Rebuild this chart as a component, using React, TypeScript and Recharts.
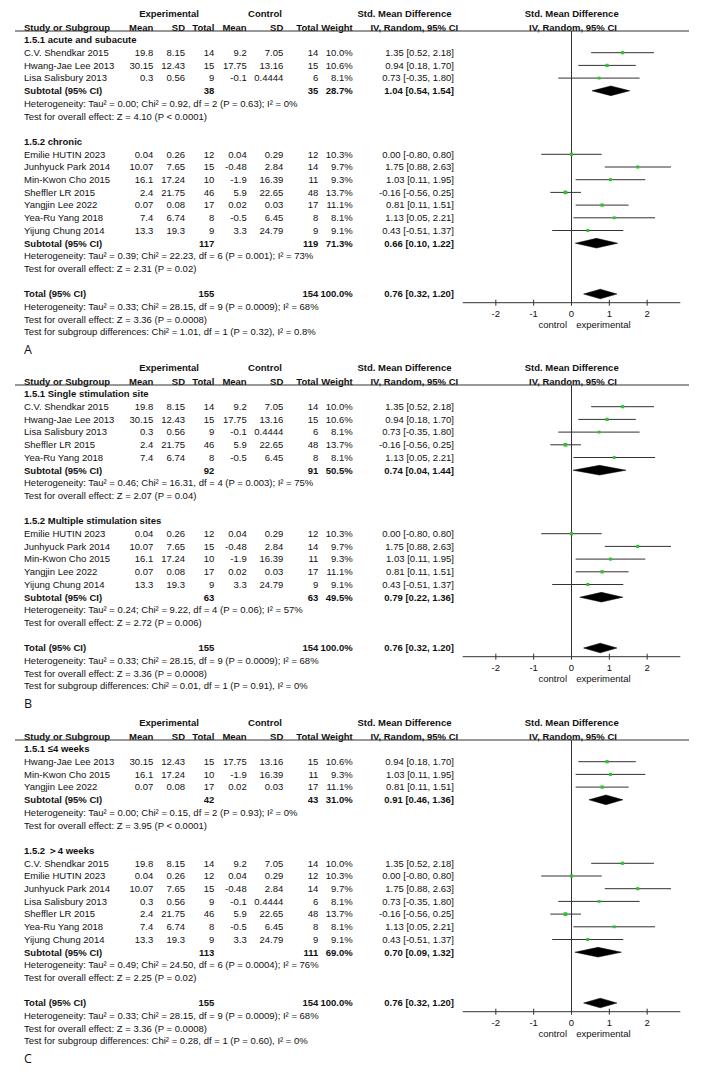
import React from "react";
import {
  ComposedChart,
  Scatter,
  XAxis,
  YAxis,
  ErrorBar,
  ReferenceLine,
  ReferenceArea,
} from "recharts";

// ---------------- DATA ----------------
const studyNames = [
  "C.V. Shendkar 2015",
  "Hwang-Jae Lee 2013",
  "Lisa Salisbury 2013",
  "Emilie HUTIN 2023",
  "Junhyuck Park 2014",
  "Min-Kwon Cho 2015",
  "Sheffler LR 2015",
  "Yangjin Lee 2022",
  "Yea-Ru Yang 2018",
  "Yijung Chung 2014",
];
const expMean = [19.8, 30.15, 0.3, 0.04, 10.07, 16.1, 2.4, 0.07, 7.4, 13.3];
const expSD = [8.15, 12.43, 0.56, 0.26, 7.65, 17.24, 21.75, 0.08, 6.74, 19.3];
const expTotal = [14, 15, 9, 12, 15, 10, 46, 17, 8, 9];
const ctrlMean = [9.2, 17.75, -0.1, 0.04, -0.48, -1.9, 5.9, 0.02, -0.5, 3.3];
const ctrlSD = [7.05, 13.16, 0.4444, 0.29, 2.84, 16.39, 22.65, 0.03, 6.45, 24.79];
const ctrlTotal = [14, 15, 6, 12, 14, 11, 48, 17, 8, 9];
const studyWeight = [10.0, 10.6, 8.1, 10.3, 9.7, 9.3, 13.7, 11.1, 8.1, 9.1];
const studySmd = [1.35, 0.94, 0.73, 0.0, 1.75, 1.03, -0.16, 0.81, 1.13, 0.43];
const studyLow = [0.52, 0.18, -0.35, -0.8, 0.88, 0.11, -0.56, 0.11, 0.05, -0.51];
const studyHigh = [2.18, 1.7, 1.8, 0.8, 2.63, 1.95, 0.25, 1.51, 2.21, 1.37];

const panelLetters = ["A", "B", "C"];
const groupLabels = [
  ["1.5.1 acute and subacute", "1.5.2 chronic"],
  ["1.5.1 Single stimulation site", "1.5.2 Multiple stimulation sites"],
  ["1.5.1 ≤4 weeks", "1.5.2 ＞4 weeks"],
];
const groupMembers = [
  [[0, 1, 2], [3, 4, 5, 6, 7, 8, 9]],
  [[0, 1, 2, 6, 8], [3, 4, 5, 7, 9]],
  [[1, 5, 7], [0, 3, 4, 2, 6, 8, 9]],
];
const groupExpTotal = [[38, 117], [92, 63], [42, 113]];
const groupCtrlTotal = [[35, 119], [91, 63], [43, 111]];
const groupWeight = [[28.7, 71.3], [50.5, 49.5], [31.0, 69.0]];
const groupSmd = [[1.04, 0.66], [0.74, 0.79], [0.91, 0.7]];
const groupLow = [[0.54, 0.1], [0.04, 0.22], [0.46, 0.09]];
const groupHigh = [[1.54, 1.22], [1.44, 1.36], [1.36, 1.32]];
const groupHet = [
  [
    "Tau² = 0.00; Chi² = 0.92, df = 2 (P = 0.63); I² = 0%",
    "Tau² = 0.39; Chi² = 22.23, df = 6 (P = 0.001); I² = 73%",
  ],
  [
    "Tau² = 0.46; Chi² = 16.31, df = 4 (P = 0.003); I² = 75%",
    "Tau² = 0.24; Chi² = 9.22, df = 4 (P = 0.06); I² = 57%",
  ],
  [
    "Tau² = 0.00; Chi² = 0.15, df = 2 (P = 0.93); I² = 0%",
    "Tau² = 0.49; Chi² = 24.50, df = 6 (P = 0.0004); I² = 76%",
  ],
];
const groupZ = [
  ["Z = 4.10 (P < 0.0001)", "Z = 2.31 (P = 0.02)"],
  ["Z = 2.07 (P = 0.04)", "Z = 2.72 (P = 0.006)"],
  ["Z = 3.95 (P < 0.0001)", "Z = 2.25 (P = 0.02)"],
];
const subgroupDiff = [
  "Chi² = 1.01, df = 1 (P = 0.32), I² = 0.8%",
  "Chi² = 0.01, df = 1 (P = 0.91), I² = 0%",
  "Chi² = 0.28, df = 1 (P = 0.60), I² = 0%",
];
const totalExp = 155;
const totalCtrl = 154;
const totalWeight = 100.0;
const totalSmd = 0.76;
const totalLow = 0.32;
const totalHigh = 1.2;
const totalHet = "Tau² = 0.33; Chi² = 28.15, df = 9 (P = 0.0009); I² = 68%";
const totalZ = "Z = 3.36 (P = 0.0008)";
const xTicks = [-2, -1, 0, 1, 2];

// ---------------- LAYOUT ----------------
const W = 708;
const H = 1080;
const PANEL_TOPS = [0, 354.4, 709];
const PANEL_H = 354;
const ROW0 = 40;
const PITCH = 12.7;
const PLOT_TOP = 31;
const PLOT_BOTTOM = 302.7;
const PLOT_LEFT = 462.7;
const PLOT_RIGHT = 680.3;
const X_DOMAIN: [number, number] = [-2.876, 2.876];
const Y_DOMAIN: [number, number] = [
  (PLOT_TOP - ROW0) / PITCH,
  (PLOT_BOTTOM - ROW0) / PITCH,
];
const FONT = "'Liberation Sans', Arial, sans-serif";
const FS = 9.5;
const COL = {
  name: 24,
  expMean: 153.3,
  expSD: 185,
  expN: 214.3,
  ctlMean: 246.7,
  ctlSD: 283.3,
  ctlN: 318.3,
  weight: 352.7,
  ci: 454,
};
const TEXT_COLOR = "#111";
const LINE_COLOR = "#333";
const GREEN = "#2fc42f";

const fmtCI = (e: number, lo: number, hi: number) =>
  `${e.toFixed(2)} [${lo.toFixed(2)}, ${hi.toFixed(2)}]`;

type Row = {
  kind: string;
  i: number;
  s?: number;
  g?: number;
};

function buildRows(p: number): Row[] {
  const rows: Row[] = [];
  let i = 0;
  groupMembers[p].forEach((members, g) => {
    rows.push({ kind: "label", i: i++, g });
    members.forEach((s) => rows.push({ kind: "study", i: i++, s }));
    rows.push({ kind: "sub", i: i++, g });
    rows.push({ kind: "het", i: i++, g });
    rows.push({ kind: "z", i: i++, g });
    i++;
  });
  rows.push({ kind: "total", i: i++ });
  rows.push({ kind: "thet", i: i++ });
  rows.push({ kind: "tz", i: i++ });
  rows.push({ kind: "diff", i: i++ });
  return rows;
}

const T = (props: any) => {
  const { x, y, anchor = "start", bold = false, children } = props;
  return (
    <text
      x={x}
      y={y}
      dy="0.35em"
      textAnchor={anchor}
      fontFamily={FONT}
      fontSize={FS}
      fontWeight={bold ? "bold" : "normal"}
      fill={TEXT_COLOR}
    >
      {children}
    </text>
  );
};

const Tick = (props: any) => {
  const { x, y, payload } = props;
  return (
    <g>
      <line x1={x} x2={x} y1={y - 3} y2={y + 3} stroke={LINE_COLOR} />
      <text
        x={x}
        y={y + 10.8}
        dy="0.35em"
        textAnchor="middle"
        fontFamily={FONT}
        fontSize={FS}
        fill={TEXT_COLOR}
      >
        {payload.value}
      </text>
    </g>
  );
};

const ZeroLabel = (props: any) => {
  const vb = props.viewBox || {};
  const x = vb.x;
  const yb = (vb.y || 0) + (vb.height || 0) + 22.3;
  return (
    <g>
      <text x={x - 4.5} y={yb} dy="0.35em" textAnchor="end" fontFamily={FONT} fontSize={FS} fill={TEXT_COLOR}>
        control
      </text>
      <text x={x + 4.7} y={yb} dy="0.35em" textAnchor="start" fontFamily={FONT} fontSize={FS} fill={TEXT_COLOR}>
        experimental
      </text>
    </g>
  );
};

const Square = (props: any) => {
  const { cx, cy, payload } = props;
  if (cx == null || cy == null) return null;
  const s = Math.sqrt(payload.w) * 1.0;
  return <rect x={cx - s / 2} y={cy - s / 2} width={s} height={s} fill={GREEN} />;
};

const makeDiamond = (frac: number) => (props: any) => {
  const { x, y, width, height } = props;
  if (x == null) return null;
  const mx = x + width * frac;
  const my = y + height / 2;
  const pts = `${x},${my} ${mx},${y} ${x + width},${my} ${mx},${y + height}`;
  return <polygon points={pts} fill="#000" stroke="#000" strokeWidth={0.5} />;
};

function Panel({ p }: { p: number }) {
  const rows = buildRows(p);
  const studyData = rows
    .filter((r) => r.kind === "study")
    .map((r) => {
      const s = r.s as number;
      return {
        x: studySmd[s],
        y: r.i,
        err: [studySmd[s] - studyLow[s], studyHigh[s] - studySmd[s]],
        w: studyWeight[s],
      };
    });
  const diamonds = rows
    .filter((r) => r.kind === "sub" || r.kind === "total")
    .map((r) => {
      if (r.kind === "sub") {
        const g = r.g as number;
        return { i: r.i, est: groupSmd[p][g], lo: groupLow[p][g], hi: groupHigh[p][g] };
      }
      return { i: r.i, est: totalSmd, lo: totalLow, hi: totalHigh };
    });

  const rowY = (i: number) => ROW0 + i * PITCH;

  const texts: any[] = [];
  rows.forEach((r, k) => {
    const y = rowY(r.i);
    if (r.kind === "label") {
      texts.push(<T key={k} x={COL.name} y={y} bold>{groupLabels[p][r.g as number]}</T>);
    } else if (r.kind === "study") {
      const s = r.s as number;
      texts.push(
        <g key={k}>
          <T x={COL.name} y={y}>{studyNames[s]}</T>
          <T x={COL.expMean} y={y} anchor="end">{String(expMean[s])}</T>
          <T x={COL.expSD} y={y} anchor="end">{String(expSD[s])}</T>
          <T x={COL.expN} y={y} anchor="end">{String(expTotal[s])}</T>
          <T x={COL.ctlMean} y={y} anchor="end">{String(ctrlMean[s])}</T>
          <T x={COL.ctlSD} y={y} anchor="end">{String(ctrlSD[s])}</T>
          <T x={COL.ctlN} y={y} anchor="end">{String(ctrlTotal[s])}</T>
          <T x={COL.weight} y={y} anchor="end">{studyWeight[s].toFixed(1) + "%"}</T>
          <T x={COL.ci} y={y} anchor="end">{fmtCI(studySmd[s], studyLow[s], studyHigh[s])}</T>
        </g>
      );
    } else if (r.kind === "sub") {
      const g = r.g as number;
      texts.push(
        <g key={k}>
          <T x={COL.name} y={y} bold>Subtotal (95% CI)</T>
          <T x={COL.expN} y={y} anchor="end" bold>{String(groupExpTotal[p][g])}</T>
          <T x={COL.ctlN} y={y} anchor="end" bold>{String(groupCtrlTotal[p][g])}</T>
          <T x={COL.weight} y={y} anchor="end" bold>{groupWeight[p][g].toFixed(1) + "%"}</T>
          <T x={COL.ci} y={y} anchor="end" bold>{fmtCI(groupSmd[p][g], groupLow[p][g], groupHigh[p][g])}</T>
        </g>
      );
    } else if (r.kind === "het") {
      texts.push(<T key={k} x={COL.name} y={y}>{"Heterogeneity: " + groupHet[p][r.g as number]}</T>);
    } else if (r.kind === "z") {
      texts.push(<T key={k} x={COL.name} y={y}>{"Test for overall effect: " + groupZ[p][r.g as number]}</T>);
    } else if (r.kind === "total") {
      texts.push(
        <g key={k}>
          <T x={COL.name} y={y} bold>Total (95% CI)</T>
          <T x={COL.expN} y={y} anchor="end" bold>{String(totalExp)}</T>
          <T x={COL.ctlN} y={y} anchor="end" bold>{String(totalCtrl)}</T>
          <T x={COL.weight} y={y} anchor="end" bold>{totalWeight.toFixed(1) + "%"}</T>
          <T x={COL.ci} y={y} anchor="end" bold>{fmtCI(totalSmd, totalLow, totalHigh)}</T>
        </g>
      );
    } else if (r.kind === "thet") {
      texts.push(<T key={k} x={COL.name} y={y}>{"Heterogeneity: " + totalHet}</T>);
    } else if (r.kind === "tz") {
      texts.push(<T key={k} x={COL.name} y={y}>{"Test for overall effect: " + totalZ}</T>);
    } else if (r.kind === "diff") {
      texts.push(<T key={k} x={COL.name} y={y}>{"Test for subgroup differences: " + subgroupDiff[p]}</T>);
    }
  });

  const h1 = 14;
  const h2 = 27.3;

  return (
    <div style={{ position: "absolute", left: 0, top: PANEL_TOPS[p], width: W, height: PANEL_H }}>
      <div style={{ position: "absolute", left: 0, top: 0 }}>
        <ComposedChart
          width={W}
          height={PANEL_H}
          margin={{
            top: PLOT_TOP,
            left: PLOT_LEFT,
            right: W - PLOT_RIGHT,
            bottom: PANEL_H - PLOT_BOTTOM - 30,
          }}
        >
          <XAxis
            type="number"
            dataKey="x"
            domain={X_DOMAIN}
            ticks={xTicks}
            interval={0}
            allowDataOverflow
            height={30}
            tickSize={0}
            tickMargin={0}
            tickLine={false}
            axisLine={{ stroke: LINE_COLOR }}
            tick={<Tick />}
          />
          <YAxis type="number" dataKey="y" domain={Y_DOMAIN} reversed hide allowDataOverflow />
          <ReferenceLine x={0} stroke={LINE_COLOR} label={<ZeroLabel />} />
          {diamonds.map((d, k) => (
            <ReferenceArea
              key={k}
              x1={d.lo}
              x2={d.hi}
              y1={d.i - 0.38}
              y2={d.i + 0.38}
              shape={makeDiamond((d.est - d.lo) / (d.hi - d.lo))}
            />
          ))}
          <Scatter data={studyData} isAnimationActive={false} shape={(pp: any) => <Square {...pp} />}>
            <ErrorBar dataKey="err" direction="x" width={0} stroke={LINE_COLOR} strokeWidth={1} />
          </Scatter>
        </ComposedChart>
      </div>
      <svg
        width={W}
        height={PANEL_H + 16}
        style={{ position: "absolute", left: 0, top: 0, pointerEvents: "none", overflow: "visible" }}
      >
        <T x={169} y={h1} anchor="middle" bold>Experimental</T>
        <T x={265} y={h1} anchor="middle" bold>Control</T>
        <T x={404.5} y={h1} anchor="middle" bold>Std. Mean Difference</T>
        <T x={571.7} y={h1} anchor="middle" bold>Std. Mean Difference</T>
        <T x={COL.name} y={h2} bold>Study or Subgroup</T>
        <T x={COL.expMean} y={h2} anchor="end" bold>Mean</T>
        <T x={COL.expSD} y={h2} anchor="end" bold>SD</T>
        <T x={COL.expN} y={h2} anchor="end" bold>Total</T>
        <T x={COL.ctlMean} y={h2} anchor="end" bold>Mean</T>
        <T x={COL.ctlSD} y={h2} anchor="end" bold>SD</T>
        <T x={COL.ctlN} y={h2} anchor="end" bold>Total</T>
        <T x={COL.weight} y={h2} anchor="end" bold>Weight</T>
        <T x={414.3} y={h2} anchor="middle" bold>IV, Random, 95% CI</T>
        <T x={573} y={h2} anchor="middle" bold>IV, Random, 95% CI</T>
        <line x1={15} x2={689} y1={PLOT_TOP} y2={PLOT_TOP} stroke={LINE_COLOR} strokeWidth={1} />
        {texts}
        <text x={24} y={349.5} dy="0.35em" fontFamily="'Open Sans', 'Noto Sans', sans-serif" fontSize={12.5} fill={TEXT_COLOR}>
          {panelLetters[p]}
        </text>
      </svg>
    </div>
  );
}

export default function App() {
  return (
    <div style={{ position: "absolute", left: 0, top: 0, width: W, height: H, background: "#fff", overflow: "hidden" }}>
      {[0, 1, 2].map((p) => (
        <Panel key={p} p={p} />
      ))}
    </div>
  );
}
